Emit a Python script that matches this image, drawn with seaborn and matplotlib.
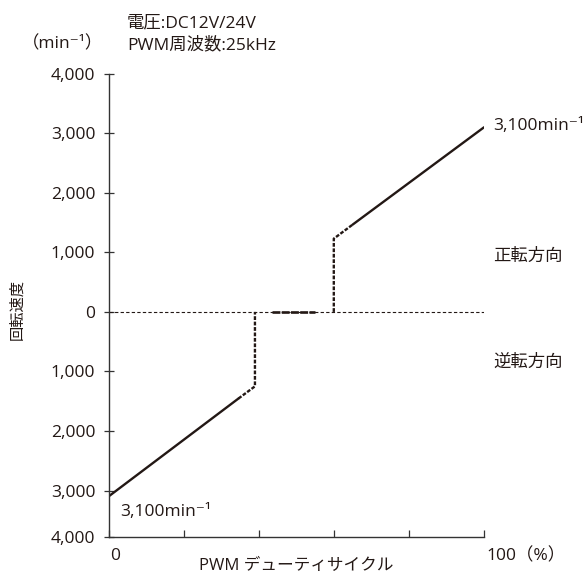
import matplotlib
matplotlib.use("Agg")
import matplotlib.pyplot as plt
import matplotlib.transforms as mtrans
import seaborn as sns
import pandas as pd

# Duty cycle (%) vs. rotation speed (min^-1)
rev_solid_duty = [0, 34.6]
rev_solid_speed = [-3100, -1455]
rev_dash_duty = [34.6, 39, 39]
rev_dash_speed = [-1455, -1250, 0]
stop_duty = [43.5, 55]
stop_speed = [0, 0]
fwd_dash_duty = [60, 60, 65]
fwd_dash_speed = [0, 1230, 1465]
fwd_solid_duty = [65, 100]
fwd_solid_speed = [1465, 3100]

y_ticks = [4000, 3000, 2000, 1000, 0, -1000, -2000, -3000, -3775]
y_tick_labels = ["4,000", "3,000", "2,000", "1,000", "0", "1,000", "2,000", "3,000", "4,000"]
x_ticks = [0, 20, 40, 60, 80, 100]
x_tick_labels = ["0", "", "", "", "", "100（%）"]

sns.set_style("ticks")
FAM = ["Open Sans", "Noto Sans CJK JP", "DejaVu Sans"]
plt.rcParams["font.family"] = FAM
INK = "#231815"

W, H = 585, 576
fig = plt.figure(figsize=(W / 100, H / 100), dpi=100)
ax = fig.add_axes([108.5 / W, 1 - 536.7 / H, (484 - 108.5) / W, (536.7 - 73.7) / H])

def seg(xs, ys, **kw):
    df = pd.DataFrame({"duty": xs, "speed": ys})
    sns.lineplot(data=df, x="duty", y="speed", ax=ax, estimator=None, sort=False,
                 color=INK, **kw)

# zero reference line
seg([0, 100], [0, 0], lw=0.8, dashes=(3, 2))
seg(rev_solid_duty, rev_solid_speed, lw=1.7)
seg(rev_dash_duty, rev_dash_speed, lw=1.7, dashes=(1.6, 0.7))
seg(stop_duty, stop_speed, lw=1.9, dashes=(3.0, 0.5))
seg(fwd_dash_duty, fwd_dash_speed, lw=1.7, dashes=(1.6, 0.7))
seg(fwd_solid_duty, fwd_solid_speed, lw=1.7)

ax.set_xlim(0, 100)
ax.set_ylim(-3775, 4000)
sns.despine(ax=ax)
for s in ("left", "bottom"):
    ax.spines[s].set_color("#333333")
    ax.spines[s].set_linewidth(1.0)

ax.set_yticks(y_ticks)
ax.set_yticklabels(y_tick_labels)
ax.set_xticks(x_ticks)
ax.set_xticklabels(x_tick_labels, ha="left")
ax.tick_params(axis="y", direction="inout", length=7, width=0.9, pad=6,
               labelsize=12.5, colors="#333333", labelcolor=INK)
ax.tick_params(axis="x", direction="in", length=5, width=0.9, pad=8,
               labelsize=12.5, colors="#333333", labelcolor=INK)
offset = mtrans.ScaledTranslation(2 / 100, 0, fig.dpi_scale_trans)
for t in ax.get_xticklabels():
    t.set_transform(t.get_transform() + offset)

ax.set_xlabel("")
ax.set_ylabel("")

def ftext(x, y, s, size=12.5, **kw):
    fig.text(x / W, 1 - y / H, s, fontsize=size, color=INK, va="center", **kw)

ftext(296, 566, "PWM デューティサイクル", size=12, ha="center")
ftext(18, 310, "回転速度", size=11, rotation=90, ha="center")
ftext(103, 44, "（min⁻¹）", ha="right")
ftext(127, 23, "電圧:DC12V/24V")
ftext(127, 45, "PWM周波数:25kHz")
ftext(493, 126, "3,100min⁻¹")
ftext(493, 257, "正転方向")
ftext(493, 363, "逆転方向")
ftext(120, 512, "3,100min⁻¹")

fig.savefig("out.png", dpi=100)
